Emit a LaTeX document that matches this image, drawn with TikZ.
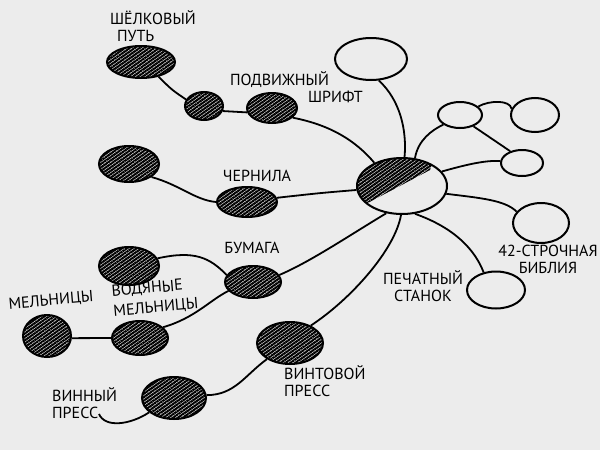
\documentclass[tikz,border=0pt]{standalone}
\usepackage{fontspec}
\setmainfont{PT Sans}
\usetikzlibrary{shapes.geometric,patterns.meta}
\definecolor{bgc}{RGB}{236,236,236}
\tikzset{
 bubble/.style={ellipse, draw=black, line width=2pt, inner sep=0pt},
 hatchfill/.style={pattern={Lines[angle=35,distance=2.8pt,line width=2.1pt]}, pattern color=black},
 hatched/.style={bubble, hatchfill},
 link/.style={line width=1.8pt, black},
 lbl/.style={font=\fontsize{16}{17}\selectfont, inner sep=0pt, align=left}
}
\begin{document}
\begin{tikzpicture}[x=1pt,y=-1pt]
\useasboundingbox (0,0) rectangle (600,450);
\fill[bgc] (0,0) rectangle (600,450);

% hub partial hatching
\begin{scope}
 \clip (402,186) ellipse [x radius=45pt, y radius=28pt];
 \fill[hatchfill] (340,215) -- (362,206) -- (430,170) -- (440,140) -- (340,140) -- cycle;
\end{scope}
\node[bubble, minimum width=90pt, minimum height=56pt] (hub) at (402,186) {};

% empty bubbles
\node[bubble, minimum width=72pt, minimum height=42pt] (top) at (371,59) {};
\node[bubble, minimum width=44pt, minimum height=26pt] (s1) at (460,115) {};
\node[bubble, minimum width=48pt, minimum height=34pt] (r1) at (535,115) {};
\node[bubble, minimum width=42pt, minimum height=26pt] (m1) at (522,163) {};
\node[bubble, minimum width=56pt, minimum height=40pt] (bible) at (541,223) {};
\node[bubble, minimum width=58pt, minimum height=37pt] (press) at (496,290) {};

% hatched bubbles
\node[hatched, minimum width=68pt, minimum height=32pt] (shel) at (141,62) {};
\node[hatched, minimum width=38pt, minimum height=28pt] (dot) at (204,106) {};
\node[hatched, minimum width=50pt, minimum height=30pt] (podv) at (272,108) {};
\node[hatched, minimum width=60pt, minimum height=36pt] (inkL) at (129,164) {};
\node[hatched, minimum width=60pt, minimum height=30pt] (cher) at (247,202) {};
\node[hatched, minimum width=60pt, minimum height=38pt] (papL) at (129,266) {};
\node[hatched, minimum width=56pt, minimum height=32pt] (bum) at (253,282) {};
\node[hatched, minimum width=48pt, minimum height=42pt] (mel) at (47,336) {};
\node[hatched, minimum width=56pt, minimum height=34pt] (vod) at (140,338) {};
\node[hatched, minimum width=66pt, minimum height=42pt] (vint) at (290,343) {};
\node[hatched, minimum width=64pt, minimum height=42pt] (vin) at (174,398) {};
\coordinate (pend) at (99,414);

% connectors
\draw[link] (shel.-40) .. controls (172,90) .. (dot.160);
\draw[link] (dot.-15) -- (podv.-170);
\draw[link] (podv.-25) .. controls (330,125) and (355,140) .. (hub.140);
\draw[link] (top.-70) .. controls (400,100) and (407,130) .. (hub.85);
\draw[link] (hub.65) .. controls (418,140) and (432,130) .. (s1.-150);
\draw[link] (s1.25) .. controls (490,100) and (510,100) .. (r1.165);
\draw[link] (s1.-40) -- (m1.135);
\draw[link] (hub.20) .. controls (465,165) and (485,160) .. (m1.175);
\draw[link] (hub.-10) .. controls (480,198) and (505,200) .. (bible.155);
\draw[link] (hub.-65) .. controls (455,228) and (475,250) .. (press.125);
\draw[link] (hub.-120) .. controls (350,235) and (310,262) .. (bum.15);
\draw[link] (hub.-92) .. controls (395,250) and (350,300) .. (vint.40);
\draw[link] (hub.185) .. controls (320,193) .. (cher.8);
\draw[link] (inkL.-30) .. controls (180,185) and (195,200) .. (cher.180);
\draw[link] (papL.15) .. controls (195,250) and (210,258) .. (bum.165);
\draw[link] (vod.25) .. controls (195,318) and (210,300) .. (bum.-160);
\draw[link] (mel.-5) -- (vod.180);
\draw[link] (vin.5) .. controls (235,395) and (245,375) .. (vint.-145);
\draw[link] (vin.-150) .. controls (130,425) and (105,428) .. (pend);

% labels
\node[lbl, anchor=west] (tshel) at (110,26) {ШЁЛКОВЫЙ\\\hspace*{7pt}ПУТЬ};
\node[lbl, anchor=west] (tpodv) at (230,87) {ПОДВИЖНЫЙ\\\hspace*{78pt}ШРИФТ};
\node[lbl] (tcher) at (257,176) {ЧЕРНИЛА};
\node[lbl] (tbum) at (252,248) {БУМАГА};
\node[lbl, rotate=5] (tmel) at (51,301) {МЕЛЬНИЦЫ};
\node[lbl, rotate=5, font=\fontsize{16}{20}\selectfont] (tvod) at (155,298) {ВОДЯНЫЕ\\МЕЛЬНИЦЫ};
\node[lbl, anchor=west] (tvint) at (284,381) {ВИНТОВОЙ\\ПРЕСС};
\node[lbl, anchor=west] (tvin) at (52,403) {ВИННЫЙ\\ПРЕСС};
\node[lbl, align=center] (tpress) at (423,286) {ПЕЧАТНЫЙ\\СТАНОК};
\node[lbl, align=center] (tbible) at (548,259) {42-СТРОЧНАЯ\\БИБЛИЯ};
\end{tikzpicture}
\end{document}
